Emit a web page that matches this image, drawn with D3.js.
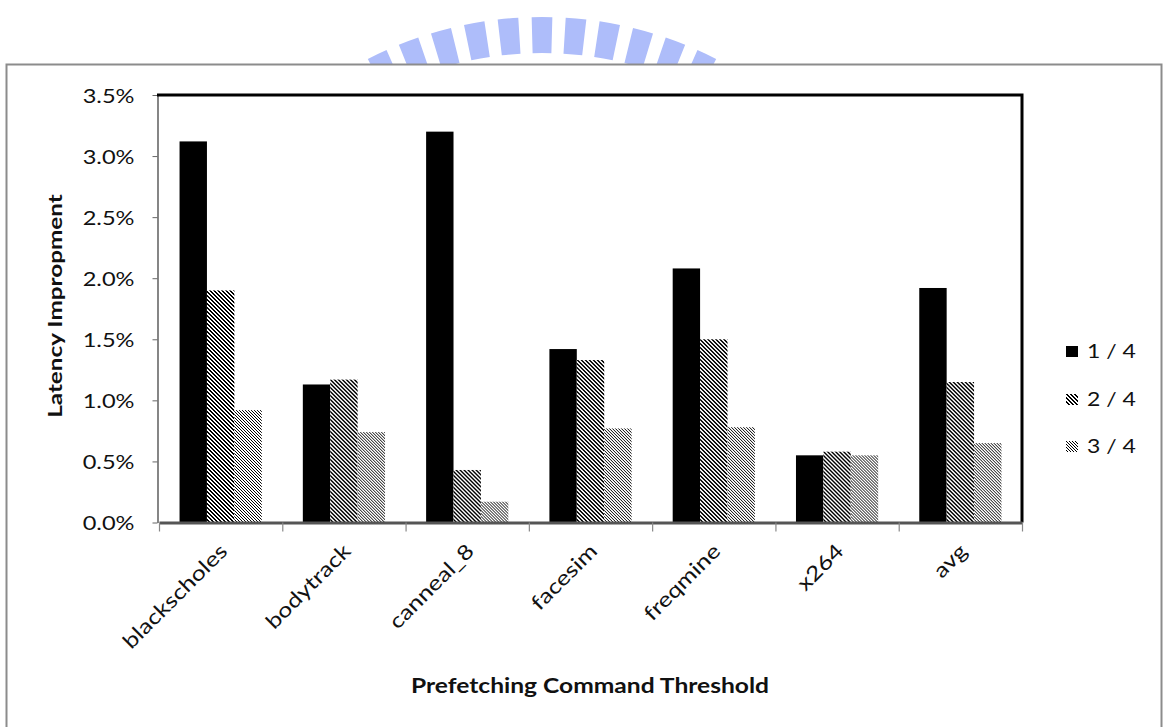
<!DOCTYPE html>
<html>
<head>
<meta charset="utf-8">
<script src="https://cdn.jsdelivr.net/npm/d3@7"></script>
<style>
  body { margin: 0; background: #fff; }
  svg { display: block; }
  text { font-family: Lato, "Open Sans", "DejaVu Sans", sans-serif; fill: #111; }
</style>
</head>
<body>
<svg id="chart" width="1163" height="727"></svg>
<script>
// Benchmarks on the x axis
const categories = ["blackscholes", "bodytrack", "canneal_8", "facesim", "freqmine", "x264", "avg"];
// Prefetching command thresholds (legend entries)
const seriesNames = ["1 / 4", "2 / 4", "3 / 4"];
// Latency improvement in percent, one array per threshold
const thresholdQuarter = [3.12, 1.13, 3.20, 1.42, 2.08, 0.55, 1.92];
const thresholdHalf = [1.90, 1.17, 0.43, 1.33, 1.50, 0.58, 1.15];
const thresholdThreeQuarter = [0.92, 0.74, 0.17, 0.77, 0.78, 0.55, 0.65];
// Y axis tick values (percent)
const yTicks = [0, 0.5, 1.0, 1.5, 2.0, 2.5, 3.0, 3.5];

const seriesValues = [thresholdQuarter, thresholdHalf, thresholdThreeQuarter];

const svg = d3.select("#chart");

// plot area
const plot = { left: 159, right: 1022, top: 95, bottom: 522.5 };

// --- faint emblem behind the chart frame: ring of radial strokes ---
const emblem = svg.append("g").attr("transform", "translate(542,400)");
const rayIndex = d3.range(-6, 7);
const rayArc = d3.arc().innerRadius(347).outerRadius(383);
emblem.selectAll("path")
  .data(rayIndex)
  .join("path")
  .attr("d", k => {
    const c = k * 5.1 * Math.PI / 180, half = 1.55 * Math.PI / 180;
    return rayArc({ startAngle: c - half, endAngle: c + half });
  })
  .attr("fill", "#aebdfa");

// --- chart frame ---
svg.append("rect")
  .attr("x", 6.5).attr("y", 64.5)
  .attr("width", 1155).attr("height", 700)
  .attr("fill", "#fff")
  .attr("stroke", "#8c8c8c")
  .attr("stroke-width", 2);

// --- hatch patterns: downward diagonals built from single pixels ---
const defs = svg.append("defs");
function pixelDiag(id, period, darkRun) {
  const p = defs.append("pattern")
    .attr("id", id)
    .attr("patternUnits", "userSpaceOnUse")
    .attr("width", period).attr("height", period);
  p.append("rect").attr("width", period).attr("height", period).attr("fill", "#fff");
  for (let r = 0; r < period; r++) {
    for (let k = 0; k < darkRun; k++) {
      p.append("rect")
        .attr("x", (r + k) % period).attr("y", r)
        .attr("width", 1).attr("height", 1)
        .attr("fill", "#000");
    }
  }
}
pixelDiag("darkDiag", 4, 2);
pixelDiag("lightDiag", 3, 1);
const fills = ["#000", "url(#darkDiag)", "url(#lightDiag)"];

// --- scales ---
const x = d3.scaleBand().domain(categories).range([plot.left, plot.right]).padding(0);
const xInner = d3.scaleBand().domain(d3.range(seriesNames.length))
  .range([0, x.bandwidth()]).paddingInner(0).paddingOuter(0.75);
const y = d3.scaleLinear().domain([0, 3.5]).range([plot.bottom, plot.top]);
const xEdges = d3.scaleLinear().domain([0, categories.length]).range([plot.left, plot.right]);

// --- bars ---
const groups = svg.append("g")
  .selectAll("g")
  .data(categories)
  .join("g")
  .attr("transform", d => `translate(${x(d)},0)`);

groups.selectAll("rect")
  .data((d, i) => seriesValues.map((vals, s) => ({ s, v: vals[i] })))
  .join("rect")
  .attr("x", d => xInner(d.s))
  .attr("width", xInner.bandwidth())
  .attr("y", d => y(d.v))
  .attr("height", d => y(0) - y(d.v))
  .attr("fill", d => fills[d.s]);

// --- y axis ---
const yAxis = svg.append("g")
  .attr("transform", `translate(${plot.left - 1.5},0)`)
  .call(d3.axisLeft(y).tickValues(yTicks).tickSize(5).tickSizeOuter(0)
    .tickFormat(d => d.toFixed(1) + "%"));
yAxis.select(".domain").attr("stroke", "#444").attr("stroke-width", 1.3);
yAxis.selectAll(".tick line").attr("stroke", "#666");
yAxis.selectAll(".tick text")
  .attr("x", 0)
  .attr("dy", "0.35em")
  .attr("transform", "translate(-23,0) scale(1.18,1)")
  .style("font-size", "20px")
  .style("font-family", "Lato, sans-serif")
  .attr("fill", "#111");

// --- top and right frame of the plot area ---
svg.append("path")
  .attr("d", `M${plot.left - 2},${plot.top}H${plot.right}V${plot.bottom}`)
  .attr("fill", "none")
  .attr("stroke", "#000")
  .attr("stroke-width", 3);

// --- x axis: boundary ticks ---
const xAxis = svg.append("g")
  .attr("transform", `translate(0,${plot.bottom})`)
  .call(d3.axisBottom(xEdges).tickValues(d3.range(categories.length + 1))
    .tickSize(9).tickSizeOuter(0).tickFormat(""));
xAxis.select(".domain").attr("stroke", "#555").attr("stroke-width", 3);
xAxis.selectAll(".tick line").attr("stroke", "#888").attr("stroke-width", 1.2);

// --- x category labels, rotated ---
svg.append("g")
  .selectAll("text")
  .data(categories)
  .join("text")
  .attr("transform", d => `translate(${x(d) + x.bandwidth() / 2 + 8},${plot.bottom + 30}) rotate(-45) scale(1.22,1)`)
  .attr("text-anchor", "end")
  .style("font-size", "20.5px")
  .text(d => d);

// --- axis titles ---
svg.append("text")
  .attr("transform", `translate(590,693) scale(1.2,1)`)
  .attr("text-anchor", "middle")
  .style("font-size", "20.5px")
  .style("font-weight", "bold")
  .text("Prefetching Command Threshold");

svg.append("text")
  .attr("transform", `translate(61.5,306) rotate(-90) scale(1.35,1)`)
  .attr("text-anchor", "middle")
  .style("font-size", "18px")
  .style("font-weight", "bold")
  .text("Latency Impropment");

// --- legend ---
const legendY = [346, 394, 441];
const legend = svg.append("g")
  .selectAll("g")
  .data(seriesNames)
  .join("g")
  .attr("transform", (d, i) => `translate(1066,${legendY[i]})`);
legend.append("rect")
  .attr("width", 12).attr("height", 11)
  .attr("fill", (d, i) => fills[i]);
legend.append("text")
  .attr("transform", "translate(21,11.5) scale(1.15,1)")
  .style("font-size", "20px")
  .text(d => d);
</script>
</body>
</html>
